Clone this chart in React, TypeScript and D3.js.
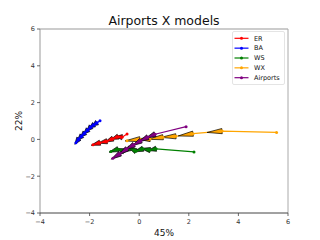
import React, { useEffect, useRef } from 'react';
import * as d3 from 'd3';

// 데이터
const seriesNames = ['ER', 'BA', 'WS', 'WX', 'Airports'];
const seriesColors = ['red', 'blue', 'green', 'orange', 'purple'];

const erPoints: [number, number][] = [
	[-1.86, -0.29], [-1.58, -0.18], [-1.3, -0.1], [-1.06, 0.04], [-0.85, 0.15], [-0.69, 0.12], [-0.49, 0.29],
];
const baPoints: [number, number][] = [
	[-2.55, -0.18], [-2.43, 0.04], [-2.31, 0.2], [-2.19, 0.36], [-2.06, 0.53], [-1.94, 0.69], [-1.82, 0.8], [-1.7, 0.91], [-1.58, 1.02],
];
const wsPoints: [number, number][] = [
	[-1.14, -0.66], [-0.85, -0.53], [-0.61, -0.64], [-0.37, -0.48], [-0.13, -0.64], [0.15, -0.51], [0.44, -0.58], [0.68, -0.51], [2.21, -0.68],
];
const wxPoints: [number, number][] = [
	[-0.49, -0.07], [0.03, 0.01], [0.44, 0.02], [0.96, 0.12], [1.48, 0.17], [2.17, 0.31], [3.34, 0.45], [5.54, 0.38],
];
const airportPoints: [number, number][] = [
	[-1.06, -1.02], [-0.77, -0.78], [-0.49, -0.51], [-0.21, -0.29], [0.07, -0.07], [0.35, 0.12], [0.64, 0.28], [1.89, 0.69],
];
const allSeries = [erPoints, baPoints, wsPoints, wxPoints, airportPoints];

const xTicks = [-4, -2, 0, 2, 4, 6];
const yTicks = [-4, -2, 0, 2, 4, 6];

const W = 320;
const H = 240;
const margin = { left: 40, right: 32, top: 29, bottom: 27 };

export default function App() {
	const svgRef = useRef<SVGSVGElement>(null);

	useEffect(() => {
		const svg = d3.select(svgRef.current);
		svg.selectAll('*').remove();

		const x = d3.scaleLinear().domain([-4, 6]).range([margin.left, W - margin.right]);
		const y = d3.scaleLinear().domain([-4, 6]).range([H - margin.bottom, margin.top]);
		const font = 'DejaVu Sans, sans-serif';

		svg.append('rect').attr('width', W).attr('height', H).attr('fill', 'white');

		// 데이터 그리기
		allSeries.forEach((pts, si) => {
			const color = seriesColors[si];
			const g = svg.append('g');
			g.append('path')
				.attr('d', d3.line()(pts.map(p => [x(p[0]), y(p[1])]))!)
				.attr('fill', 'none').attr('stroke', color).attr('stroke-width', 1.2);
			// 화살표: 각 점에서 이전 점 방향으로 (긴 쐐기)
			for (let i = pts.length - 2; i >= 1; i--) {
				const bx = x(pts[i][0]), by = y(pts[i][1]);
				const px = x(pts[i - 1][0]), py = y(pts[i - 1][1]);
				const dx = px - bx, dy = py - by;
				const len = Math.hypot(dx, dy) || 1;
				const ux = dx / len, uy = dy / len;
				const L = Math.min(15, len + 2);
				const hw = 2.6;
				const tip = [bx + ux * L, by + uy * L];
				const a = [bx - uy * hw, by + ux * hw];
				const b = [bx + uy * hw, by - ux * hw];
				g.append('path')
					.attr('d', `M${tip[0]},${tip[1]}L${a[0]},${a[1]}L${b[0]},${b[1]}Z`)
					.attr('fill', color).attr('stroke', 'black').attr('stroke-width', 0.7)
					.attr('stroke-linejoin', 'round');
			}
			g.selectAll('circle').data(pts).join('circle')
				.attr('cx', d => x(d[0])).attr('cy', d => y(d[1])).attr('r', 1.5)
				.attr('fill', color);
		});

		// 축 테두리
		const x0 = x(-4), x1 = x(6), y0 = y(-4), y1 = y(6);
		svg.append('line').attr('x1', x0).attr('x2', x1).attr('y1', y1).attr('y2', y1).attr('stroke', '#999').attr('stroke-width', 1);
		svg.append('line').attr('x1', x1).attr('x2', x1).attr('y1', y1).attr('y2', y0).attr('stroke', '#aaa').attr('stroke-width', 1);
		svg.append('line').attr('x1', x0).attr('x2', x0).attr('y1', y1).attr('y2', y0).attr('stroke', '#999').attr('stroke-width', 1);
		svg.append('line').attr('x1', x0).attr('x2', x1).attr('y1', y0).attr('y2', y0).attr('stroke', '#444').attr('stroke-width', 1);

		// 눈금
		xTicks.forEach(t => {
			svg.append('line').attr('x1', x(t)).attr('x2', x(t)).attr('y1', y0).attr('y2', y0 + 3).attr('stroke', '#444').attr('stroke-width', 0.8);
			svg.append('text').attr('x', x(t)).attr('y', y0 + 10.5).attr('text-anchor', 'middle')
				.attr('font-family', font).attr('font-size', 6.5).attr('fill', '#333')
				.text(t < 0 ? `\u2212${Math.abs(t)}` : `${t}`);
		});
		yTicks.forEach(t => {
			svg.append('line').attr('x1', x0 - 3).attr('x2', x0).attr('y1', y(t)).attr('y2', y(t)).attr('stroke', '#444').attr('stroke-width', 0.8);
			svg.append('text').attr('x', x0 - 5).attr('y', y(t) + 2.3).attr('text-anchor', 'end')
				.attr('font-family', font).attr('font-size', 6.5).attr('fill', '#333')
				.text(t < 0 ? `\u2212${Math.abs(t)}` : `${t}`);
		});

		// 제목, 축 이름
		svg.append('text').attr('x', (x0 + x1) / 2).attr('y', 24.5).attr('text-anchor', 'middle')
			.attr('font-family', font).attr('font-size', 12.5).attr('fill', '#111').text('Airports X models');
		svg.append('text').attr('x', (x0 + x1) / 2).attr('y', 236).attr('text-anchor', 'middle')
			.attr('font-family', font).attr('font-size', 9).attr('fill', '#111').text('45%');
		svg.append('text').attr('transform', `translate(22, ${(y0 + y1) / 2}) rotate(-90)`).attr('text-anchor', 'middle')
			.attr('font-family', font).attr('font-size', 9).attr('fill', '#111').text('22%');

		// 범례
		const lg = svg.append('g');
		lg.append('rect').attr('x', 232.5).attr('y', 31.5).attr('width', 52).attr('height', 53).attr('rx', 1.5)
			.attr('fill', 'white').attr('stroke', '#ddd').attr('stroke-width', 0.8);
		seriesNames.forEach((name, i) => {
			const ly = 38.3 + i * 9.85;
			lg.append('line').attr('x1', 234.5).attr('x2', 248.5).attr('y1', ly).attr('y2', ly)
				.attr('stroke', seriesColors[i]).attr('stroke-width', 1.2);
			lg.append('circle').attr('cx', 241.5).attr('cy', ly).attr('r', 1.5).attr('fill', seriesColors[i]);
			lg.append('text').attr('x', 254).attr('y', ly + 2.3).attr('font-family', font).attr('font-size', 6.5)
				.attr('fill', '#111').text(name);
		});
	}, []);

	return <svg ref={svgRef} width={W} height={H} style={{ position: 'absolute', left: 0, top: 0 }} />;
}
